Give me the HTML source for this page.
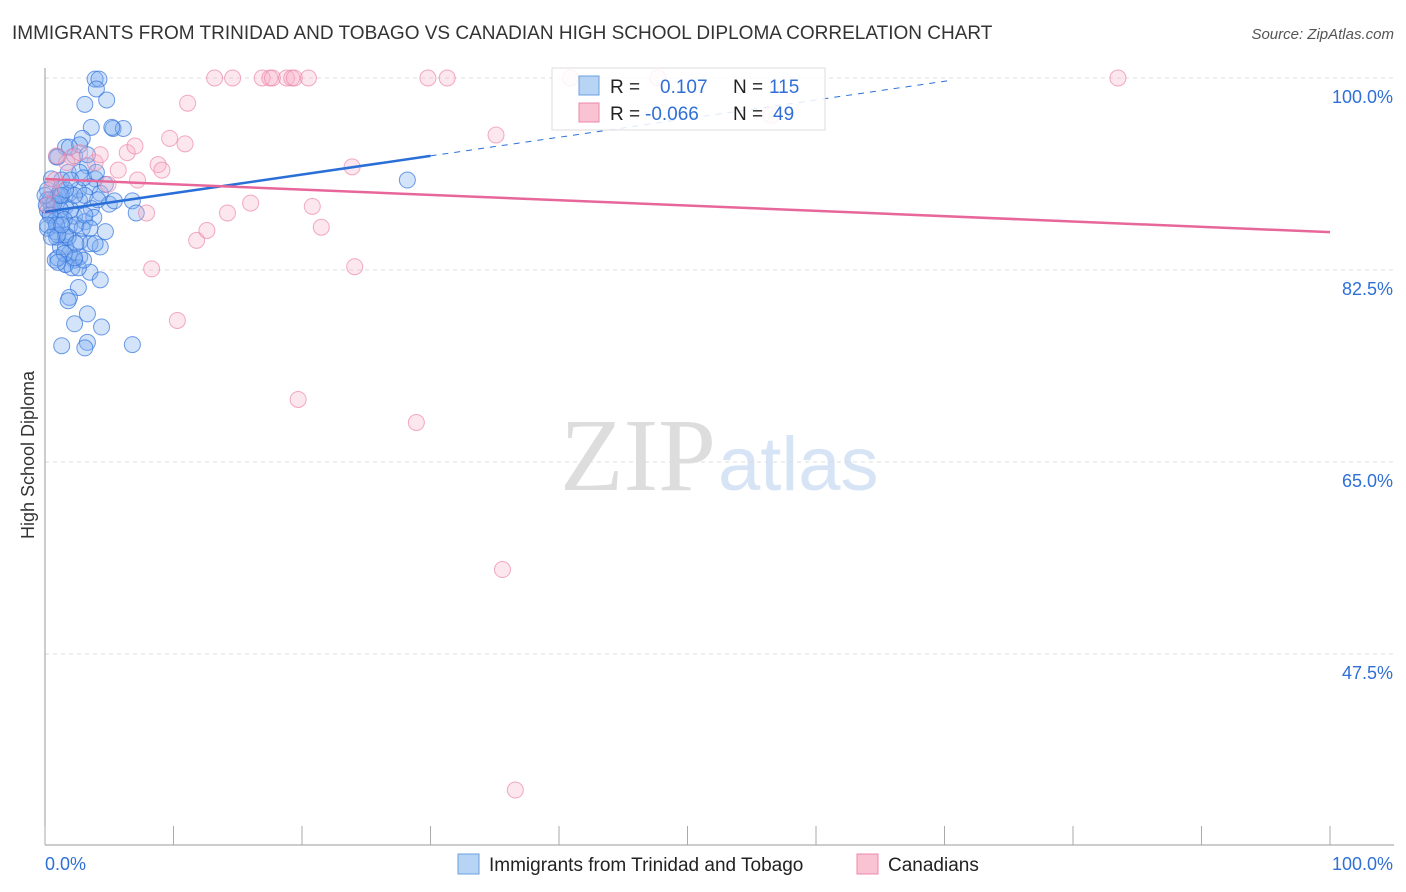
<!DOCTYPE html>
<html><head><meta charset="utf-8"><style>
body{margin:0;background:#fff;font-family:"Liberation Sans",sans-serif;}
svg{display:block}
</style></head><body>
<svg id="chart" width="1406" height="892">
<text x="12" y="39" font-size="19" fill="#333">IMMIGRANTS FROM TRINIDAD AND TOBAGO VS CANADIAN HIGH SCHOOL DIPLOMA CORRELATION CHART</text>
<text x="1394" y="39" font-size="15" fill="#555" font-style="italic" text-anchor="end">Source: ZipAtlas.com</text>
<text x="34" y="455" font-size="18" fill="#333" transform="rotate(-90 34 455)" text-anchor="middle">High School Diploma</text>
<text x="716" y="490" font-size="104" fill="#ddd" font-family="Liberation Serif,serif" text-anchor="end">ZIP</text>
<text x="718" y="490" font-size="76" fill="#d6e4f5">atlas</text>
<g id="grid"></g><g id="pts"></g><g id="lines"></g>
<g>
<rect x="552" y="68" width="273" height="62" fill="#fff" fill-opacity="0.85" stroke="#ddd"/>
<rect x="579" y="76" width="20" height="19" fill="#b8d4f5" stroke="#6a9fe0"/>
<rect x="579" y="103" width="20" height="19" fill="#f9c3d3" stroke="#ec8aa8"/>
<text x="610" y="93" font-size="19" fill="#222">R = <tspan x="660" fill="#2f6fd6">0.107</tspan><tspan x="733" fill="#222">N = </tspan><tspan x="769" fill="#2f6fd6">115</tspan></text>
<text x="610" y="120" font-size="19" fill="#222">R = <tspan x="645" fill="#2f6fd6">-0.066</tspan><tspan x="733" fill="#222">N = </tspan><tspan x="773" fill="#2f6fd6">49</tspan></text>
</g>
<g>
<rect x="458" y="854" width="21" height="20" fill="#b8d4f5" stroke="#6a9fe0"/>
<text x="489" y="871" font-size="19" fill="#222">Immigrants from Trinidad and Tobago</text>
<rect x="857" y="854" width="21" height="20" fill="#f9c3d3" stroke="#ec8aa8"/>
<text x="888" y="871" font-size="19" fill="#222">Canadians</text>
</g>
</svg>
<script>
const yTicks=[100,82.5,65,47.5];
const xTickLabels=["0.0%","100.0%"];
const blueX=[3.9,4.2,4,3.1,4.8,3.6,5.3,6.1,2.9,1,1.6,2.3,3.3,1.8,2.7,3.9,1.2,1.9,3.5,4.3,0.8,1.6,2.7,3.6,5,6.8,7.1,0.4,1.2,2.3,3.1,0.8,1.6,2.7,3.5,4.3,4.7,1.2,1.9,0.8,1.6,2.3,2.7,3.5,4.3,2.6,1.9,1.8,3.3,2.3,4.4,1.3,3.3,3.1,6.8,28.2,0.2,0.4,0.5,0.2,0.8,1,1.3,1.9,2,2.6,3.1,1.6,2.1,1.2,0.2,0.1,0.9,1.6,2.9,3.8,4.7,5.4,0.5,1.3,2.3,3,4,0.9,1.9,2.7,3.3,0.2,1,1.8,2.6,0.7,1.5,0,0.4,0.9,1.6,2.4,3.1,4.1,5.2,1,0.2,1.2,1.3,1.6,2,2.4,3,3.5,3.9,0.5,1.5,2.3,1];
const blueY=[99.9,99.9,99,97.6,98,95.5,95.4,95.4,94.5,92.8,93.7,92.9,92,91.4,91.4,90.8,89.9,89.5,90.1,89.5,89,88.3,88.8,88.1,88.5,88.8,87.7,87.7,87.4,87.4,86.9,86,85.5,85.1,84.9,84.6,86,84.6,84,83.4,83,83.4,83.7,82.3,81.6,80.9,80,79.7,78.5,77.6,77.3,75.6,75.9,75.4,75.7,90.7,89.8,88.9,88.4,87.9,87,89.3,90.7,86.5,88,89.8,89.3,83,82.7,88,88.9,88.4,85.5,84.6,86.3,87.3,90.3,88.8,90.8,89.3,89.3,90.9,91.4,92.8,93.7,93.9,93,86.3,83.6,85.5,82.7,88.6,87.1,89.3,87.5,86.6,85.7,86.6,87.5,88.9,95.5,85.7,86.6,89.3,86.6,89.8,90.7,84.9,83.4,86.3,84.9,85.5,84,83.6,83.2];
const pinkX=[0.9,2.1,0.8,1.7,2.7,3.9,4.3,4.9,5.7,6.4,7,7.2,7.9,8.3,8.8,9.1,9.7,10.3,10.9,11.1,11.8,12.6,13.2,14.2,14.6,16,16.9,17.5,17.7,18.8,19.2,19.4,19.7,20.5,20.8,21.5,23.9,24.1,28.9,29.8,31.3,35.1,35.6,36.6,40.9,47.7,56.5,83.5,0.2,0.5];
const pinkY=[92.9,92.8,90.7,92.3,93.2,92.3,93,90.3,91.6,93.2,93.8,90.7,87.7,82.6,92.1,91.6,94.5,77.9,94,97.7,85.2,86.1,100,87.7,100,88.6,100,100,100,100,100,100,70.7,100,88.3,86.4,91.9,82.8,68.6,100,100,94.8,55.2,35.1,100,100,96.6,100,88.4,89.9];
const trendBlue=[87.8,0.17,30,70.4];   // intercept, slope, solid-end x, dashed-end x
const trendPink=[90.8,-0.0485];
const X0=45,X1=1330,Y100=78,PY=192/17.5,AXB=845;
const xs=v=>X0+(X1-X0)*v/100, ys=v=>Y100+(100-v)*PY;
const NS='http://www.w3.org/2000/svg';
function mk(t,a,p){const e=document.createElementNS(NS,t);for(const k in a)e.setAttribute(k,a[k]);p.appendChild(e);return e;}
const g=document.getElementById('grid');
yTicks.forEach(t=>{
 const l=mk('line',{x1:X0,x2:1394,y1:ys(t),y2:ys(t),stroke:'#ddd','stroke-dasharray':'4,4'},g);
 
 
 const tx=mk('text',{x:1393,y:ys(t)+25,'font-size':18,fill:'#2f6fd6','text-anchor':'end'},g);
 tx.textContent=t.toFixed(1)+'%';
 
 
});
mk('line',{x1:X0,x2:X0,y1:68,y2:AXB,stroke:'#999'},g);
mk('line',{x1:X0,x2:1394,y1:AXB,y2:AXB,stroke:'#999'},g);
for(let i=0;i<=10;i++){mk('line',{x1:xs(i*10),x2:xs(i*10),y1:826,y2:AXB,stroke:'#aaa'},g);}
const xl=mk('text',{x:45,y:870,'font-size':18,fill:'#2f6fd6'},g);xl.textContent=xTickLabels[0];


const xr=mk('text',{x:1393,y:870,'font-size':18,fill:'#2f6fd6','text-anchor':'end'},g);xr.textContent=xTickLabels[1];


const p=document.getElementById('pts');
blueX.forEach((x,i)=>{const c=mk('circle',{cx:xs(x),cy:ys(blueY[i]),r:8,fill:'rgba(130,175,240,0.35)',stroke:'rgba(50,115,220,0.7)','stroke-width':1},p);
 
 });
pinkX.forEach((x,i)=>{const c=mk('circle',{cx:xs(x),cy:ys(pinkY[i]),r:8,fill:'rgba(248,175,200,0.3)',stroke:'rgba(235,135,170,0.7)','stroke-width':1},p);
 
 });
const L=document.getElementById('lines');
const fb=x=>trendBlue[0]+trendBlue[1]*x, fp=x=>trendPink[0]+trendPink[1]*x;
const b1=mk('line',{x1:xs(0),y1:ys(fb(0)),x2:xs(trendBlue[2]),y2:ys(fb(trendBlue[2])),stroke:'#2a6fd8','stroke-width':2.5},L);


const b2=mk('line',{x1:xs(trendBlue[2]),y1:ys(fb(trendBlue[2])),x2:xs(trendBlue[3]),y2:ys(Math.min(100,fb(trendBlue[3]))),stroke:'#2a6fd8','stroke-width':1,'stroke-dasharray':'6,6'},L);


const p1=mk('line',{x1:xs(0),y1:ys(fp(0)),x2:xs(100),y2:ys(fp(100)),stroke:'#e8679a','stroke-width':2.5},L);


</script>
</body></html>
